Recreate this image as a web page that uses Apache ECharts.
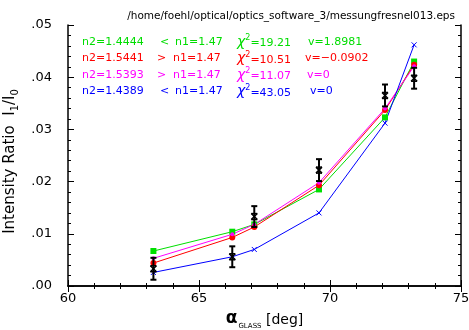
<!DOCTYPE html>
<html>
<head>
<meta charset="utf-8">
<script src="https://cdn.jsdelivr.net/npm/echarts@6/dist/echarts.min.js"></script>
<style>
  html, body { margin: 0; padding: 0; background: #fff; }
  #chart { width: 469px; height: 330px; }
</style>
</head>
<body>
<div id="chart"></div>
<script>
// angles (deg)
const angles = [63.26, 66.27, 67.11, 69.58, 72.10, 73.21]

// fit curves
const greenVals = [0.0067, 0.0104, 0.0118, 0.0185, 0.0323, 0.0430]
const redVals = [0.0044, 0.0093, 0.0113, 0.0193, 0.0337, 0.0424]
const magentaVals = [0.0053, 0.0099, 0.0118, 0.0198, 0.0340, 0.0421]
const blueVals = [0.0026, 0.0056, 0.0070, 0.0140, 0.0312, 0.0462]

// measurements with error
const measVals = [0.0033, 0.0056, 0.0133, 0.0222, 0.0365, 0.0398]
const measErr = [0.0021, 0.0020, 0.0020, 0.0021, 0.0021, 0.0020]

// legend rows
const legendRows = [
  { color: '#00dd00', n2: 'n2=1.4444', rel: '<', n1: 'n1=1.47', chi: '19.21', v: 'v=1.8981' },
  { color: '#ff0000', n2: 'n2=1.5441', rel: '>', n1: 'n1=1.47', chi: '10.51', v: 'v=\u22120.0902' },
  { color: '#ff00ff', n2: 'n2=1.5393', rel: '>', n1: 'n1=1.47', chi: '11.07', v: 'v=0' },
  { color: '#0000ff', n2: 'n2=1.4389', rel: '<', n1: 'n1=1.47', chi: '43.05', v: 'v=0' }
]

const FONT = '"DejaVu Sans", Verdana, sans-serif'
const chart = echarts.init(document.getElementById('chart'))

function pairs(vals) {
  return angles.map((a, i) => [a, vals[i]])
}

function lineSeries(name, vals, color, symbol, size) {
  return {
    name: name,
    type: 'line',
    data: pairs(vals),
    symbol: symbol,
    symbolSize: size,
    showSymbol: true,
    lineStyle: { color: color, width: 1 },
    itemStyle: { color: color },
    emphasis: { disabled: true },
    animation: false,
    z: 3
  }
}

const crossPath = 'path://M0,0L10,10M10,0L0,10'

// legend graphics
const legendGraphics = []
const relX = [160, 157, 157, 160]
const n1X = [175, 173, 173, 175]
const vX = [308, 305, 307, 310]
legendRows.forEach((r, i) => {
  const y = 43 + i * 16.5
  const base = { fontFamily: FONT, fontSize: 11, fill: r.color }
  legendGraphics.push({ type: 'text', left: 82, top: y - 6.5, style: Object.assign({ text: r.n2 }, base) })
  legendGraphics.push({ type: 'text', left: relX[i], top: y - 6.5, style: Object.assign({ text: r.rel }, base) })
  legendGraphics.push({ type: 'text', left: n1X[i], top: y - 6.5, style: Object.assign({ text: r.n1 }, base) })
  legendGraphics.push({
    type: 'text', left: 237, top: y - 9,
    style: {
      text: '{c|\u03c7}{s|2}{t|=' + r.chi + '}',
      rich: {
        c: { fontFamily: FONT, fontSize: 14, fontStyle: 'italic', fill: r.color, verticalAlign: 'bottom' },
        s: { fontFamily: FONT, fontSize: 8, fill: r.color, padding: [0, 0, 7, 0], verticalAlign: 'bottom' },
        t: { fontFamily: FONT, fontSize: 11, fill: r.color, verticalAlign: 'bottom' }
      }
    }
  })
  legendGraphics.push({ type: 'text', left: vX[i], top: y - 6.5, style: Object.assign({ text: r.v }, base) })
})

const option = {
  backgroundColor: '#fff',
  animation: false,
  title: {
    text: '/home/foehl/optical/optics_software_3/messungfresnel013.eps',
    right: 9,
    top: 6,
    textStyle: { fontFamily: FONT, fontSize: 10.5, fontWeight: 'normal', color: '#000' }
  },
  grid: { left: 68, right: 8, top: 25, bottom: 44, containLabel: false, outerBoundsMode: 'none' },
  xAxis: [
    {
      type: 'value', min: 60, max: 75, interval: 5,
      axisLine: { show: true, lineStyle: { color: '#000', width: 1.5 } },
      axisTick: { inside: true, length: 6, lineStyle: { color: '#000' } },
      minorTick: { show: true, splitNumber: 5, length: 3, lineStyle: { color: '#000' } },
      splitLine: { show: false },
      axisLabel: { fontFamily: FONT, fontSize: 13, color: '#000', margin: 6 },
      name: '{a|\u03b1}{s|GLASS}{t| [deg]}',
      nameLocation: 'middle',
      nameGap: 23,
      nameTextStyle: {
        rich: {
          a: { fontFamily: FONT, fontSize: 17, fontWeight: 'bold', color: '#000', verticalAlign: 'bottom' },
          s: { fontFamily: FONT, fontSize: 7, color: '#000', verticalAlign: 'bottom', padding: [0, 0, -3, 1] },
          t: { fontFamily: FONT, fontSize: 14, color: '#000', verticalAlign: 'bottom' }
        }
      }
    },
    {
      type: 'value', min: 60, max: 75, interval: 5, position: 'top',
      axisLine: { show: true, lineStyle: { color: '#000', width: 1.5 } },
      axisTick: { inside: true, length: 6, lineStyle: { color: '#000' } },
      minorTick: { show: true, splitNumber: 5, length: 3, lineStyle: { color: '#000' } },
      splitLine: { show: false },
      axisLabel: { show: false }
    }
  ],
  yAxis: [
    {
      type: 'value', min: 0, max: 0.05, interval: 0.01,
      axisLine: { show: true, lineStyle: { color: '#000', width: 1.5 } },
      axisTick: { inside: true, length: 6, lineStyle: { color: '#000' } },
      minorTick: { show: true, splitNumber: 5, length: 3, lineStyle: { color: '#000' } },
      splitLine: { show: false },
      axisLabel: {
        fontFamily: FONT, fontSize: 13, color: '#000', margin: 16,
        formatter: v => v.toFixed(2).replace(/^0/, '')
      },
      name: '{t|Intensity Ratio  I}{s|1}{t|/I}{s|0}',
      nameLocation: 'middle',
      nameRotate: 90,
      nameGap: 39,
      nameTextStyle: {
        padding: [0, 12, 0, 0],
        rich: {
          t: { fontFamily: FONT, fontSize: 15, color: '#000', verticalAlign: 'bottom' },
          s: { fontFamily: FONT, fontSize: 10, color: '#000', verticalAlign: 'bottom', padding: [0, 0, -3, 0] }
        }
      }
    },
    {
      type: 'value', min: 0, max: 0.05, interval: 0.01, position: 'right',
      axisLine: { show: true, lineStyle: { color: '#000', width: 1.5 } },
      axisTick: { inside: true, length: 6, lineStyle: { color: '#000' } },
      minorTick: { show: true, splitNumber: 5, length: 3, lineStyle: { color: '#000' } },
      splitLine: { show: false },
      axisLabel: { show: false }
    }
  ],
  graphic: legendGraphics,
  series: [
    lineSeries('green', greenVals, '#00e000', 'rect', 6),
    lineSeries('red', redVals, '#ff0000', 'circle', 6),
    lineSeries('magenta', magentaVals, '#ff00ff', 'circle', 4),
    Object.assign(lineSeries('blue', blueVals, '#0000ff', crossPath, 5), {
      itemStyle: { color: 'none', borderColor: '#0000ff', borderWidth: 1 }
    }),
    {
      name: 'meas',
      type: 'custom',
      data: angles.map((a, i) => [a, measVals[i], measErr[i]]),
      animation: false,
      z: 5,
      renderItem: function (params, api) {
        const x = api.value(0)
        const y = api.value(1)
        const e = api.value(2)
        const c = api.coord([x, y])
        const hi = api.coord([x, y + e])
        const lo = api.coord([x, y - e])
        const st = { stroke: '#000', lineWidth: 2 }
        const w = 3
        const m = 3
        return {
          type: 'group',
          children: [
            { type: 'line', shape: { x1: c[0], y1: hi[1], x2: c[0], y2: lo[1] }, style: st },
            { type: 'line', shape: { x1: c[0] - w, y1: hi[1], x2: c[0] + w, y2: hi[1] }, style: st },
            { type: 'line', shape: { x1: c[0] - w, y1: lo[1], x2: c[0] + w, y2: lo[1] }, style: st },
            { type: 'line', shape: { x1: c[0] - m, y1: c[1] - m, x2: c[0] + m, y2: c[1] + m }, style: { stroke: '#000', lineWidth: 1.5 } },
            { type: 'line', shape: { x1: c[0] - m, y1: c[1] + m, x2: c[0] + m, y2: c[1] - m }, style: { stroke: '#000', lineWidth: 1.5 } },
            { type: 'line', shape: { x1: c[0] - m, y1: c[1] - m, x2: c[0] + m, y2: c[1] - m }, style: { stroke: '#000', lineWidth: 1.5 } },
            { type: 'line', shape: { x1: c[0] - m, y1: c[1] + m, x2: c[0] + m, y2: c[1] + m }, style: { stroke: '#000', lineWidth: 1.5 } }
          ]
        }
      }
    }
  ]
}

chart.setOption(option)
</script>
</body>
</html>
